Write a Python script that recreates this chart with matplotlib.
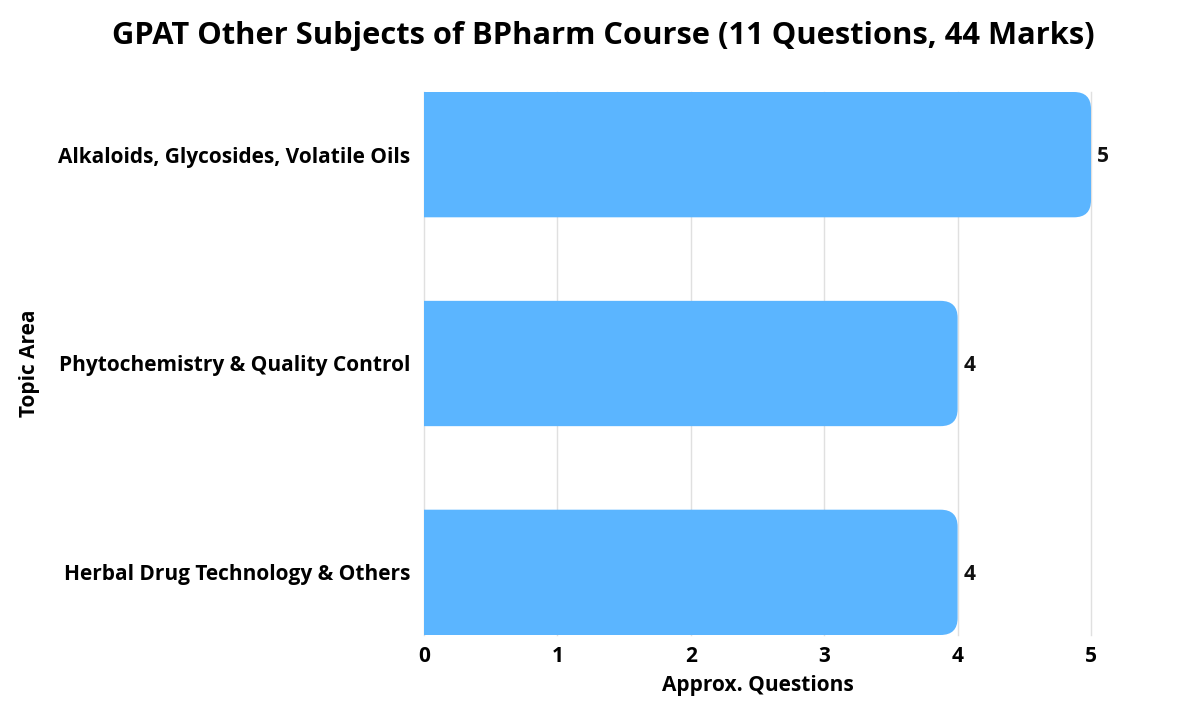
import matplotlib
matplotlib.use("Agg")
import matplotlib.pyplot as plt
from matplotlib.patches import FancyBboxPatch

categories = ["Alkaloids, Glycosides, Volatile Oils",
              "Phytochemistry & Quality Control",
              "Herbal Drug Technology & Others"]
values = [5, 4, 4]
xticks = [0, 1, 2, 3, 4, 5]

plt.rcParams['font.family'] = ['Open Sans', 'DejaVu Sans']
plt.rcParams['font.weight'] = 'bold'

fig = plt.figure(figsize=(12, 7.05), dpi=100)
ax = fig.add_axes([424/1200, 1-635/705, (1091-424)/1200, (635-92)/705])

bar_h = 0.6
color = "#5BB5FF"
r_px = 17
x_per_px = 5 / (1091 - 424)
y_per_px = 2.6 / (635 - 92)
rx = r_px * x_per_px
aspect = (r_px * y_per_px) / rx
for i, v in enumerate(values):
    p = FancyBboxPatch((-0.5, i - bar_h/2), v + 0.5, bar_h,
                       boxstyle=f"round,pad=0,rounding_size={rx}",
                       mutation_aspect=aspect, facecolor=color,
                       edgecolor="none", zorder=3, clip_on=True)
    ax.add_patch(p)
    ax.text(v + 0.045, i + 0.01, str(v), va='center', ha='left', fontsize=15,
            fontweight='bold', color='#111111')

ax.set_xlim(0, 5)
ax.set_ylim(2.3, -0.3)
ax.set_xticks(xticks)
ax.set_xticklabels([str(t) for t in xticks], fontsize=15, fontweight='bold')
ax.set_yticks(range(len(categories)))
ax.set_yticklabels(categories, fontsize=15, fontweight='bold')
ax.tick_params(axis='x', length=0, pad=8)
ax.tick_params(axis='y', length=0, pad=10)
ax.grid(axis='x', color='#E0E0E0', linewidth=1, zorder=0)
for gl in ax.get_xgridlines():
    gl.set_clip_on(False)
for s in ax.spines.values():
    s.set_visible(False)
ax.set_axisbelow(True)

ax.set_xlabel("Approx. Questions", fontsize=15, fontweight='bold', labelpad=6)
ax.set_ylabel("Topic Area", fontsize=15, fontweight='bold')
ax.yaxis.set_label_coords((40 - 424) / 667, 0.5)

fig.suptitle("GPAT Other Subjects of BPharm Course (11 Questions, 44 Marks)",
             x=603/1200, y=1-36/705, va='center', fontsize=22.2, fontweight='bold')

fig.savefig("out.png", dpi=100, facecolor='white')
